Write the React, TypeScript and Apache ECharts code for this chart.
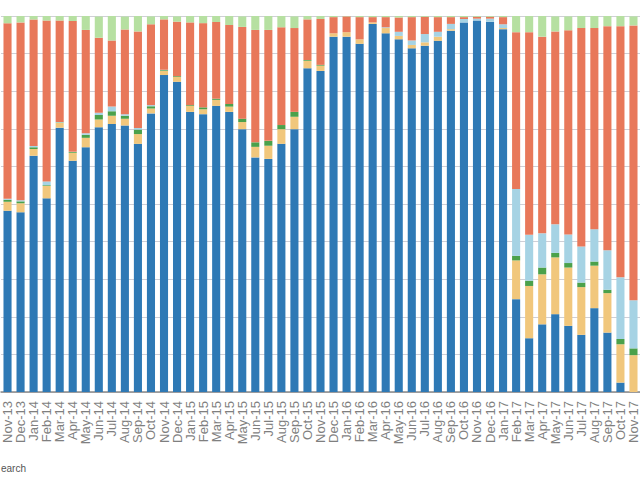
import React, { useEffect, useRef } from "react";
import * as echarts from "echarts";

const categories = [
  "Nov-13", "Dec-13",
  "Jan-14", "Feb-14", "Mar-14", "Apr-14", "May-14", "Jun-14", "Jul-14", "Aug-14", "Sep-14", "Oct-14", "Nov-14", "Dec-14",
  "Jan-15", "Feb-15", "Mar-15", "Apr-15", "May-15", "Jun-15", "Jul-15", "Aug-15", "Sep-15", "Oct-15", "Nov-15", "Dec-15",
  "Jan-16", "Feb-16", "Mar-16", "Apr-16", "May-16", "Jun-16", "Jul-16", "Aug-16", "Sep-16", "Oct-16", "Nov-16", "Dec-16",
  "Jan-17", "Feb-17", "Mar-17", "Apr-17", "May-17", "Jun-17", "Jul-17", "Aug-17", "Sep-17", "Oct-17", "Nov-17",
];

const searchValues = [48.2, 47.8, 62.8, 51.5, 70.3, 61.5, 65.1, 70.4, 71.3, 70.9, 66.0, 74.1, 84.3, 82.5, 74.5, 73.9, 76.1, 74.5, 69.9, 62.4, 62.0, 66.0, 69.9, 86.1, 85.4, 94.5, 94.5, 92.6, 97.9, 95.4, 93.8, 91.4, 92.1, 93.4, 96.1, 98.3, 98.8, 98.5, 96.5, 24.7, 14.3, 18.0, 20.7, 17.6, 15.2, 22.3, 15.8, 2.5, 0];
const tanValues = [2.4, 2.4, 1.8, 3.3, 1.3, 2.1, 2.5, 2.1, 2.2, 1.8, 2.6, 1.3, 1.1, 1.3, 1.6, 1.3, 1.6, 1.4, 1.9, 2.8, 3.5, 3.9, 3.3, 2.0, 1.4, 0.9, 1.2, 1.2, 0.4, 1.4, 0.9, 0.9, 0.9, 1.1, 0.4, 0, 0, 0, 0.3, 10.3, 13.9, 13.3, 15.1, 15.5, 12.7, 11.3, 10.5, 10.2, 9.8];
const greenValues = [0.5, 0.5, 0.5, 0.2, 0.1, 0.2, 0.8, 1.2, 1.2, 0.8, 1.2, 0.6, 0.2, 0.2, 0.2, 0.5, 0.3, 0.7, 0.9, 1.2, 1.3, 1.1, 1.3, 0.2, 0.2, 0, 0, 0, 0, 0, 0, 0, 0, 0, 0, 0, 0, 0, 0, 1.2, 1.4, 1.8, 1.2, 1.2, 1.2, 1.1, 0.9, 1.4, 1.8];
const lightBlueValues = [0.3, 0.3, 0.3, 1.0, 0.1, 0.1, 0.4, 0.6, 1.2, 0.4, 0.4, 0.3, 0.1, 0, 0, 0, 0, 0, 0, 0, 0, 0, 0, 0, 0, 0, 0, 0, 0, 0.2, 1.1, 1.2, 2.2, 1.3, 1.4, 0.9, 0.5, 0.8, 1.0, 17.8, 12.2, 9.1, 7.6, 7.6, 9.6, 8.6, 10.5, 16.4, 12.8];
const orangeValues = [46.7, 47.3, 33.7, 42.8, 27.0, 34.8, 27.5, 19.9, 17.6, 22.5, 25.7, 21.5, 13.4, 14.5, 22.0, 22.4, 20.4, 21.0, 24.4, 29.9, 29.5, 26.0, 22.3, 10.8, 12.2, 4.3, 4.2, 5.9, 1.4, 2.7, 3.8, 6.2, 4.6, 3.9, 1.8, 0.5, 0.5, 0.5, 1.9, 41.7, 53.9, 52.3, 51.3, 54.3, 58.1, 53.5, 59.6, 66.8, 73.1];
const lightGreenValues = [1.9, 1.7, 0.9, 1.2, 1.2, 1.5, 3.7, 5.7, 6.6, 3.5, 4.2, 2.1, 0.9, 1.4, 1.7, 1.9, 1.7, 2.4, 2.8, 3.7, 3.7, 3.0, 3.1, 0.9, 0.9, 0.3, 0.2, 0.3, 0.3, 0.3, 0.4, 0.3, 0.2, 0.3, 0.3, 0.3, 0.2, 0.2, 0.3, 4.3, 4.3, 5.5, 4.0, 3.7, 3.3, 3.3, 2.8, 2.7, 2.4];

const seriesNames = ["Search", "Series 2", "Series 3", "Series 4", "Series 5", "Series 6"];
const seriesColors = ["#2e79b5", "#f1c77c", "#4ba14b", "#a6d3e4", "#e8785a", "#b6e0a1"];
const legendFragment = "earch";

export default function App() {
  const ref = useRef<HTMLDivElement>(null);
  useEffect(() => {
    if (!ref.current) return;
    const chart = echarts.init(ref.current, undefined, { renderer: "svg" });
    const allValues = [searchValues, tanValues, greenValues, lightBlueValues, orangeValues, lightGreenValues];
    chart.setOption({
      animation: false,
      grid: { left: 1, right: 0, top: 16, bottom: 88, containLabel: false },
      xAxis: {
        type: "category",
        data: categories,
        axisTick: { show: false },
        axisLine: { lineStyle: { color: "#8a8a8a", width: 1.5 } },
        axisLabel: {
          rotate: 90,
          interval: 0,
          margin: 9,
          color: "#7f7f7f",
          fontSize: 13,
          fontFamily: "Liberation Sans, Arial, sans-serif",
        },
      },
      yAxis: {
        type: "value",
        min: 0,
        max: 100,
        interval: 10,
        axisLabel: { show: false },
        axisLine: { show: false },
        axisTick: { show: false },
        splitLine: { lineStyle: { color: "#cfcfd6", width: 1 } },
      },
      series: allValues.map((vals, i) => ({
        name: seriesNames[i],
        type: "bar",
        stack: "total",
        data: vals,
        barCategoryGap: "38%",
        itemStyle: { color: seriesColors[i] },
      })),
      graphic: [
        {
          type: "text",
          x: 1,
          y: 468,
          style: {
            text: legendFragment,
            fill: "#555555",
            fontSize: 10,
            fontFamily: "Liberation Sans, Arial, sans-serif",
            verticalAlign: "middle",
          },
        },
      ],
    });
    return () => chart.dispose();
  }, []);
  return <div ref={ref} style={{ width: 640, height: 480, position: "absolute", left: 0, top: 0 }} />;
}
